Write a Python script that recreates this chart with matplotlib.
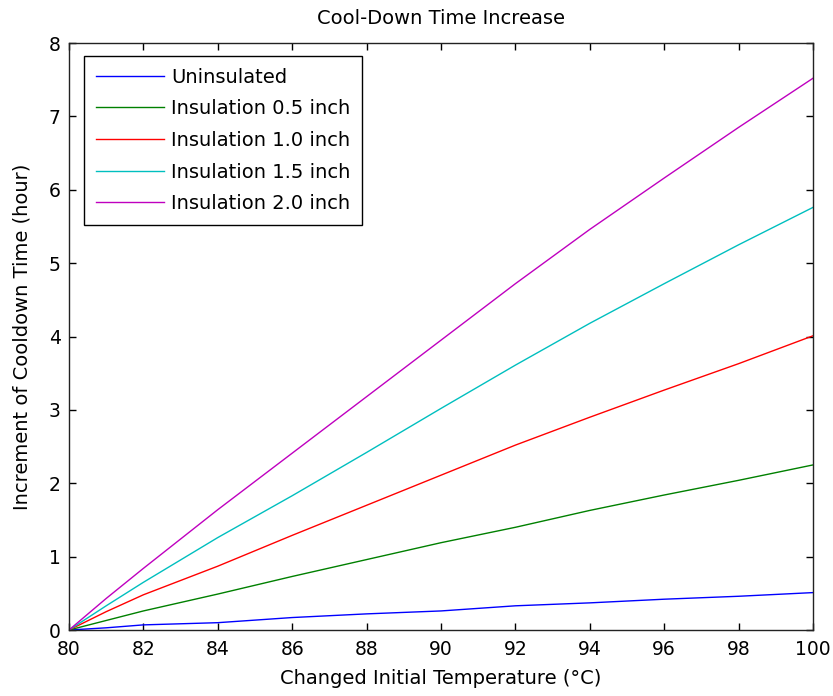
import matplotlib
matplotlib.use('Agg')
from matplotlib import pyplot as plt

plt.rcParams['font.family'] = ['DejaVu Sans']

# 读图估计的数据
temps = [80, 81, 82, 84, 86, 88, 90, 92, 94, 96, 98, 100]
uninsulated = [0, 0.03, 0.07, 0.10, 0.17, 0.22, 0.26, 0.33, 0.37, 0.42, 0.46, 0.51]
ins_05 = [0, 0.13, 0.26, 0.49, 0.73, 0.96, 1.19, 1.40, 1.63, 1.84, 2.04, 2.25]
ins_10 = [0, 0.25, 0.48, 0.87, 1.29, 1.70, 2.11, 2.52, 2.90, 3.27, 3.63, 4.01]
ins_15 = [0, 0.33, 0.65, 1.26, 1.83, 2.42, 3.02, 3.61, 4.18, 4.72, 5.25, 5.76]
ins_20 = [0, 0.43, 0.84, 1.64, 2.41, 3.18, 3.95, 4.72, 5.46, 6.16, 6.85, 7.52]

series = [uninsulated, ins_05, ins_10, ins_15, ins_20]
labels = ['Uninsulated', 'Insulation 0.5 inch', 'Insulation 1.0 inch',
          'Insulation 1.5 inch', 'Insulation 2.0 inch']
colors = ['#0000ff', '#008000', '#ff0000', '#00bfbf', '#bf00bf']

fig = plt.figure(figsize=(8.33, 6.96), dpi=100)
ax = fig.add_axes([0.0828, 0.0948, 0.8932, 0.8434])

for y, lab, c in zip(series, labels, colors):
    ax.plot(temps, y, color=c, linewidth=1.0, label=lab)

ax.set_xlim(80, 100)
ax.set_ylim(0, 8)
ax.set_xticks(range(80, 101, 2))
ax.set_yticks(range(0, 9))
ax.tick_params(direction='in', length=5, width=1, labelsize=13.5,
               top=True, right=True)
ax.tick_params(axis='x', pad=7)
ax.tick_params(axis='y', pad=6)
for sp in ax.spines.values():
    sp.set_linewidth(1)
    sp.set_color('#222222')

ax.set_title('Cool-Down Time Increase', fontsize=14, pad=14)
ax.set_xlabel('Changed Initial Temperature (°C)', fontsize=14)
ax.set_ylabel('Increment of Cooldown Time (hour)', fontsize=14)
ax.xaxis.set_label_coords(0.5, -0.066)
ax.yaxis.set_label_coords(-0.051, 0.5)

leg = ax.legend(loc='upper left', bbox_to_anchor=(0.0202, 0.978),
                borderaxespad=0, fontsize=14, fancybox=False,
                edgecolor='black', framealpha=1, handlelength=3.5,
                handletextpad=0.38, labelspacing=0.65, borderpad=0.6)
leg.get_frame().set_linewidth(1)

plt.savefig('out.png', dpi=100)
